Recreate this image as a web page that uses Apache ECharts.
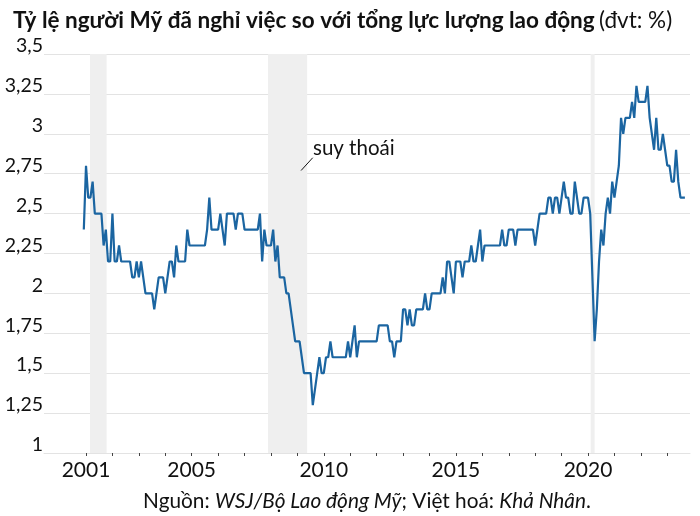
<!DOCTYPE html>
<html>
<head>
<meta charset="utf-8">
<script src="https://cdn.jsdelivr.net/npm/echarts@6/dist/echarts.min.js"></script>
<style>
  html, body { margin: 0; padding: 0; background: #fff; }
  #chart { width: 700px; height: 516px; }
</style>
</head>
<body>
<div id="chart"></div>
<script>
// monthly quits rate, Dec 2000 .. Sep 2023
const firstMonth = { year: 2000, month: 12 };
const quitRate = [
  2.4,
  2.8, 2.6, 2.6, 2.7, 2.5, 2.5, 2.5, 2.5, 2.3, 2.4, 2.2, 2.2,
  2.5, 2.2, 2.2, 2.3, 2.2, 2.2, 2.2, 2.2, 2.2, 2.1, 2.1, 2.2,
  2.1, 2.2, 2.1, 2.0, 2.0, 2.0, 2.0, 1.9, 2.0, 2.1, 2.1, 2.1,
  2.0, 2.1, 2.2, 2.2, 2.1, 2.3, 2.2, 2.2, 2.2, 2.2, 2.4, 2.3,
  2.3, 2.3, 2.3, 2.3, 2.3, 2.3, 2.3, 2.4, 2.6, 2.4, 2.4, 2.4,
  2.4, 2.5, 2.4, 2.3, 2.5, 2.5, 2.5, 2.5, 2.4, 2.5, 2.5, 2.5,
  2.4, 2.4, 2.4, 2.4, 2.4, 2.4, 2.4, 2.5, 2.2, 2.4, 2.3, 2.3,
  2.3, 2.4, 2.2, 2.3, 2.1, 2.1, 2.1, 2.0, 2.0, 1.9, 1.8, 1.7,
  1.7, 1.7, 1.6, 1.5, 1.5, 1.5, 1.5, 1.3, 1.4, 1.5, 1.6, 1.5,
  1.5, 1.6, 1.6, 1.7, 1.6, 1.6, 1.6, 1.6, 1.6, 1.6, 1.6, 1.7,
  1.6, 1.7, 1.8, 1.6, 1.7, 1.7, 1.7, 1.7, 1.7, 1.7, 1.7, 1.7,
  1.7, 1.8, 1.8, 1.8, 1.8, 1.8, 1.7, 1.7, 1.6, 1.7, 1.7, 1.7,
  1.9, 1.9, 1.8, 1.9, 1.8, 1.8, 1.9, 1.9, 1.9, 1.9, 2.0, 1.9,
  1.9, 2.0, 2.0, 2.0, 2.0, 2.0, 2.1, 2.0, 2.2, 2.2, 2.1, 2.0,
  2.2, 2.2, 2.2, 2.1, 2.2, 2.2, 2.2, 2.3, 2.2, 2.2, 2.3, 2.4,
  2.2, 2.3, 2.3, 2.3, 2.3, 2.3, 2.3, 2.3, 2.3, 2.4, 2.3, 2.3,
  2.4, 2.4, 2.4, 2.3, 2.4, 2.4, 2.4, 2.4, 2.4, 2.4, 2.4, 2.4,
  2.3, 2.4, 2.5, 2.5, 2.5, 2.5, 2.6, 2.6, 2.5, 2.6, 2.6, 2.5,
  2.6, 2.7, 2.6, 2.6, 2.5, 2.5, 2.7, 2.6, 2.5, 2.5, 2.6, 2.6,
  2.6, 2.5, 2.1, 1.7, 1.9, 2.2, 2.4, 2.3, 2.5, 2.6, 2.5, 2.7,
  2.6, 2.7, 2.8, 3.1, 3.0, 3.1, 3.1, 3.1, 3.2, 3.1, 3.3, 3.2,
  3.2, 3.2, 3.2, 3.3, 3.1, 3.0, 2.9, 3.1, 2.9, 2.9, 3.0, 2.9,
  2.8, 2.8, 2.7, 2.7, 2.9, 2.7, 2.6, 2.6, 2.6
];

// recession periods, decimal years
const recessions = [
  [2001.15, 2001.78],
  [2007.89, 2009.37],
  [2020.10, 2020.25]
];

const yearTicks = [];
for (let y = 2001; y <= 2023; y++) yearTicks.push(y);
const yearLabels = [2001, 2005, 2010, 2015, 2020];

const titleMain = 'Tỷ lệ người Mỹ đã nghỉ việc so với tổng lực lượng lao động';
const titleUnit = '(đvt: %)';
const noteText = 'suy thoái';

const points = quitRate.map((v, i) => {
  const monthIndex = firstMonth.month - 1 + i;
  const x = firstMonth.year + Math.floor(monthIndex / 12) + (monthIndex % 12) / 12;
  return [x, v];
});

const chart = echarts.init(document.getElementById('chart'), null, { renderer: 'canvas' });
const font = 'Lato, "Noto Sans", sans-serif';
const gridColor = '#e3e3e3';

chart.setOption({
  animation: false,
  textStyle: { fontFamily: font },
  title: [
    {
      left: 8,
      top: 4,
      text: `{b|${titleMain}} {n|${titleUnit}}`,
      textStyle: {
        rich: {
          b: { fontFamily: font, fontWeight: 'bold', fontSize: 22.5, color: '#111' },
          n: { fontFamily: font, fontWeight: 'normal', fontSize: 22.5, color: '#111' }
        }
      }
    },
    {
      left: 362,
      top: 486,
      textAlign: 'center',
      text: '{n|Nguồn: }{i|WSJ/Bộ Lao động Mỹ}{n|; Việt hoá: }{i|Khả Nhân}{n|.}',
      textStyle: {
        fontWeight: 'normal',
        rich: {
          n: { fontFamily: font, fontWeight: 'normal', fontSize: 20.8, color: '#111' },
          i: { fontFamily: font, fontWeight: 'normal', fontSize: 20.8, fontStyle: 'italic', color: '#111' }
        }
      }
    }
  ],
  grid: { left: 44, right: 10, top: 54, bottom: 63 },
  xAxis: {
    type: 'value',
    min: 1999.41,
    max: 2023.86,
    splitLine: { show: false },
    axisLine: { show: true, lineStyle: { color: gridColor, width: 1 } },
    axisTick: {
      show: true,
      length: 3,
      customValues: yearTicks,
      lineStyle: { color: '#444', width: 1 }
    },
    axisLabel: {
      customValues: yearLabels,
      fontSize: 21,
      color: '#111',
      margin: 7,
      formatter: v => String(Math.round(v))
    }
  },
  yAxis: {
    type: 'value',
    min: 1,
    max: 3.5,
    interval: 0.25,
    axisLine: { show: false },
    axisTick: { show: false },
    splitLine: { lineStyle: { color: gridColor, width: 1 } },
    axisLabel: {
      fontSize: 19.5,
      color: '#111',
      margin: 1,
      verticalAlign: 'bottom',
      lineHeight: 16,
      formatter: v => String(v).replace('.', ',')
    }
  },
  graphic: [
    {
      type: 'text',
      left: 313,
      top: 138,
      style: { text: noteText, font: `20.5px ${font}`, fill: '#111' }
    }
  ],
  series: [
    {
      type: 'line',
      data: points,
      showSymbol: false,
      symbol: 'none',
      lineStyle: { color: '#1b65a1', width: 2.2 },
      z: 3,
      markArea: {
        silent: true,
        itemStyle: { color: '#efefef' },
        data: recessions.map(r => [{ xAxis: r[0] }, { xAxis: r[1] }])
      },
      markLine: {
        silent: true,
        symbol: 'none',
        label: { show: false },
        lineStyle: { color: '#111', width: 1, type: 'solid' },
        data: [[{ coord: [2009.14, 2.77] }, { coord: [2009.58, 2.85] }]]
      }
    }
  ]
});

window.addEventListener('resize', () => chart.resize());
</script>
</body>
</html>
